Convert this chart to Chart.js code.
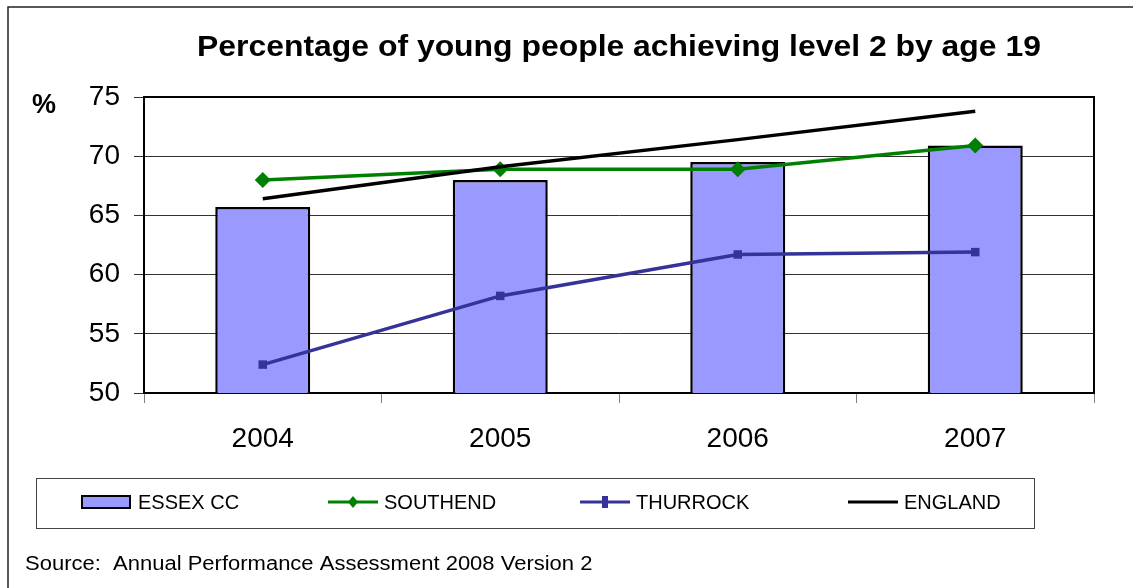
<!DOCTYPE html>
<html>
<head>
<meta charset="utf-8">
<script src="https://cdn.jsdelivr.net/npm/chart.js@4.4.0/dist/chart.umd.min.js"></script>
<style>
html, body { margin: 0; padding: 0; background: #fff; }
</style>
</head>
<body>
<canvas id="myChart" width="1133" height="588"></canvas>
<script>
const years = ['2004', '2005', '2006', '2007'];
const essex = [65.7, 68.0, 69.5, 70.9];
const southend = [68.0, 68.9, 68.9, 70.9];
const thurrock = [52.4, 58.2, 61.7, 61.9];
const england = [66.4, 69.1, 71.4, 73.8];
const yMin = 50, yMax = 75, yStep = 5;

const chartTitle = 'Percentage of young people achieving level 2 by age 19';
const sourceNote = 'Source:  Annual Performance Assessment 2008 Version 2';

const FONT = 'Arial, "Liberation Sans", sans-serif';

// legend entries sit in a boxed strip under the axis
const legendX = [82, 328, 580, 848];
const legendY = 502;

function drawLegend(ctx, chart) {
  ctx.save();
  ctx.strokeStyle = '#444';
  ctx.lineWidth = 1;
  ctx.strokeRect(36.5, 478.5, 998, 50);

  chart.data.datasets.forEach((ds, i) => {
    const x = legendX[i];
    if (ds.type === 'bar') {
      ctx.fillStyle = ds.backgroundColor;
      ctx.fillRect(x, legendY - 6, 48, 12);
      ctx.strokeStyle = '#000';
      ctx.lineWidth = 2;
      ctx.strokeRect(x, legendY - 6, 48, 12);
    } else {
      ctx.strokeStyle = ds.borderColor;
      ctx.lineWidth = 3;
      ctx.beginPath();
      ctx.moveTo(x, legendY);
      ctx.lineTo(x + 50, legendY);
      ctx.stroke();
      ctx.fillStyle = ds.borderColor;
      const cx = x + 25;
      if (ds.pointStyle === 'rectRot') {
        ctx.beginPath();
        ctx.moveTo(cx, legendY - 6);
        ctx.lineTo(cx + 5, legendY);
        ctx.lineTo(cx, legendY + 6);
        ctx.lineTo(cx - 5, legendY);
        ctx.closePath();
        ctx.fill();
      } else if (ds.pointStyle === 'rect') {
        ctx.fillRect(cx - 3, legendY - 6, 6, 12);
      }
    }
    ctx.fillStyle = '#000';
    ctx.font = '20px ' + FONT;
    ctx.textBaseline = 'middle';
    ctx.fillText(ds.label, x + 56, legendY + 1);
  });
  ctx.restore();
}

const decor = {
  id: 'decor',
  beforeDraw(chart) {
    const ctx = chart.ctx;
    ctx.save();
    ctx.fillStyle = '#fff';
    ctx.fillRect(0, 0, chart.width, chart.height);
    ctx.restore();
  },
  afterDraw(chart) {
    const ctx = chart.ctx;
    const a = chart.chartArea;
    ctx.save();
    // outer frame
    ctx.strokeStyle = '#222';
    ctx.lineWidth = 1.5;
    ctx.strokeRect(8, 7, chart.width + 20, chart.height + 20);

    // plot frame top and right
    ctx.strokeStyle = '#000';
    ctx.lineWidth = 2;
    ctx.beginPath();
    ctx.moveTo(a.left, a.top);
    ctx.lineTo(a.right, a.top);
    ctx.lineTo(a.right, a.bottom);
    ctx.stroke();

    // title, slightly widened
    ctx.fillStyle = '#000';
    ctx.save();
    ctx.translate((a.left + a.right) / 2, 56);
    ctx.scale(1.1, 1);
    ctx.font = 'bold 29px ' + FONT;
    ctx.textAlign = 'center';
    ctx.textBaseline = 'alphabetic';
    ctx.fillText(chartTitle, 0, 0);
    ctx.restore();

    // unit label
    ctx.font = 'bold 27px ' + FONT;
    ctx.textAlign = 'left';
    ctx.fillText('%', 32, 113);

    // source note
    ctx.save();
    ctx.translate(25, 570);
    ctx.scale(1.1, 1);
    ctx.font = '20px ' + FONT;
    ctx.fillText(sourceNote, 0, 0);
    ctx.restore();
    ctx.restore();

    drawLegend(ctx, chart);
  }
};

const ctx = document.getElementById('myChart').getContext('2d');

const config = {
  data: {
    labels: years,
    datasets: [
      {
        type: 'bar',
        label: 'ESSEX CC',
        data: essex,
        backgroundColor: '#9999ff',
        borderColor: '#000',
        borderWidth: 2.5,
        barPercentage: 0.4,
        categoryPercentage: 1.0,
        order: 2
      },
      {
        type: 'line',
        label: 'SOUTHEND',
        data: southend,
        borderColor: '#008000',
        backgroundColor: '#008000',
        borderWidth: 3.5,
        pointStyle: 'rectRot',
        pointRadius: 8,
        pointBorderWidth: 0,
        tension: 0,
        order: 1
      },
      {
        type: 'line',
        label: 'THURROCK',
        data: thurrock,
        borderColor: '#333399',
        backgroundColor: '#333399',
        borderWidth: 3.5,
        pointStyle: 'rect',
        pointRadius: 6,
        pointBorderWidth: 0,
        tension: 0,
        order: 1
      },
      {
        type: 'line',
        label: 'ENGLAND',
        data: england,
        borderColor: '#000',
        backgroundColor: '#000',
        borderWidth: 3.5,
        pointRadius: 0,
        tension: 0,
        order: 0
      }
    ]
  },
  options: {
    responsive: false,
    animation: false,
    layout: { padding: { top: 97, right: 39, left: 0, bottom: 0 } },
    plugins: {
      legend: { display: false },
      title: { display: false },
      tooltip: { enabled: false }
    },
    scales: {
      x: {
        offset: true,
        grid: {
          offset: true,
          drawOnChartArea: false,
          color: '#808080',
          lineWidth: 1,
          tickLength: 10
        },
        border: { color: '#000', width: 2 },
        ticks: {
          color: '#000',
          font: { family: FONT, size: 28 },
          padding: 19,
          maxRotation: 0
        },
        afterFit(scale) { scale.height = 195; }
      },
      y: {
        min: yMin,
        max: yMax,
        grid: {
          color: '#333',
          lineWidth: 1,
          tickLength: 10
        },
        border: { color: '#000', width: 2 },
        ticks: {
          stepSize: yStep,
          color: '#000',
          font: { family: FONT, size: 28 },
          padding: 14
        },
        afterFit(scale) { scale.width = 144; }
      }
    }
  },
  plugins: [decor]
};

window.grafica = new Chart(ctx, config);
</script>
</body>
</html>
